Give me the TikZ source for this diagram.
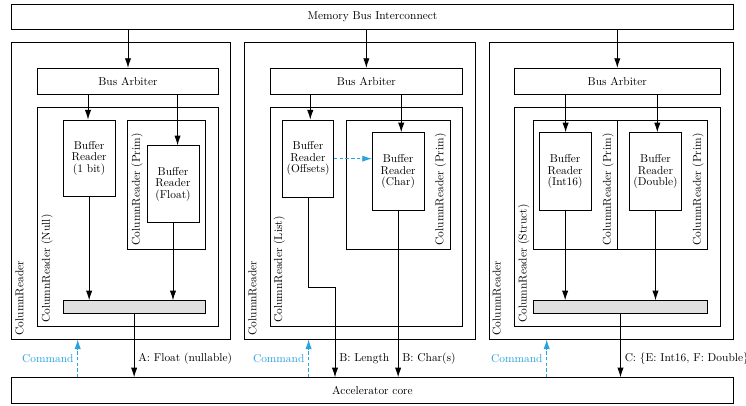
\documentclass[tikz,border=0pt]{standalone}
\usepackage{amsmath}
\usetikzlibrary{arrows.meta}
\definecolor{cmdBlue}{RGB}{41,163,223}

\begin{document}
\begin{tikzpicture}
[x=0.877pt,y=-0.877pt,
  boxDecorate/.style={draw,line width=0.6pt,inner sep=0pt},
  sized/.style 2 args={minimum width={(#1)*0.877pt},minimum height={(#2)*0.877pt}},
  barDecorate/.style={boxDecorate,fill=black!12},
  readerDecorate/.style={boxDecorate,align=center,font=\linespread{0.85}\selectfont},
  labelDecorate/.style={rotate=90,anchor=north west},
  arrowDecorate/.style={-{Latex[length=8.5pt,width=5.5pt]},thick},
  commandDecorate/.style={arrowDecorate,cmdBlue,dash pattern=on 3pt off 2pt}]
\useasboundingbox (0,0) rectangle (746,405);
%% interconnect and core
\node (mbus) at (372.5,17.1) [boxDecorate,sized={721.6}{25.2}] {Memory Bus Interconnect};
\node (core) at (372.5,390.5) [boxDecorate,sized={721.6}{25.6}] {Accelerator core};
%% column readers, arbiters and nested readers
\foreach \n/\xa/\xb/\ia/\ib/\kind in {1/11.7/230.7/37.7/218.3/Null, 2/244.7/475.3/270/462.7/List, 3/489/733.3/514.3/720.3/Struct} {
  \node (col\n) at ({(\xa+\xb)/2},190.65) [boxDecorate,sized={\xb-\xa}{296.7}] {};
  \node (arb\n) at ({(\ia+\ib)/2},81.15) [boxDecorate,sized={\ib-\ia}{25.7}] {Bus Arbiter};
  \node (nest\n) at ({(\ia+\ib)/2},216.8) [boxDecorate,sized={\ib-\ia}{219}] {};
  \node [labelDecorate] at (col\n.south west) {ColumnReader};
  \node [labelDecorate] at (nest\n.south west) {ColumnReader (\kind)};
  \draw[arrowDecorate] (mbus.south -| arb\n.north) -- (arb\n.north);
}
%% primitive column readers
\foreach \name/\xa/\xb in {prim1/127.7/205, prim2/346.7/450, prim3/533.3/617.3, prim4/617.3/707.3} {
  \node (\name) at ({(\xa+\xb)/2},184.5) [boxDecorate,sized={\xb-\xa}{129}] {};
}
\node [labelDecorate] at (prim1.south west) {ColumnReader (Prim)};
\foreach \name in {prim2, prim3, prim4} {
  \node [labelDecorate,anchor=south west] at (\name.south east) {ColumnReader (Prim)};
}
%% buffer readers
\foreach \name/\xa/\ya/\xb/\yb/\kind in {bit/63.3/120/115/196.7/1 bit, flt/147/145.7/199/222.7/Float, off/282.3/120/333.7/197.3/Offsets, chr/372.3/132.7/424/210.3/Char, int/539.3/132.7/591/210.3/Int16, dbl/629.7/132.7/681.3/210.3/Double} {
  \node (\name) at ({(\xa+\xb)/2},{(\ya+\yb)/2}) [readerDecorate,sized={\xb-\xa}{\yb-\ya}] {Buffer\\Reader\\(\kind)};
}
\node (bar1) at (134.15,307) [barDecorate,sized={141.7}{12.6}] {};
\node (bar3) at (620.5,307) [barDecorate,sized={174.4}{12.6}] {};
%% arbiters to buffer readers
\foreach \a/\r/\s in {arb1/bit/-1, arb1/flt/4, arb2/off/2, arb2/chr/2.7, arb3/int/0.4, arb3/dbl/1.6} {
  \coordinate (in) at ([xshift=\s pt]\r.north);
  \draw[arrowDecorate] (\a.south -| in) -- (in);
}
%% buffer readers to bars
\foreach \r/\b in {bit/bar1, flt/bar1, int/bar3, dbl/bar3} {
  \draw[arrowDecorate] (\r.south) -- (\r.south |- \b.north);
}
\draw[commandDecorate] (off.east) -- (off.east -| chr.west);
%% outputs to the core
\draw[arrowDecorate] (bar1.south) -- (bar1.south |- core.north) node[pos=0.7,right] {A: Float (nullable)};
\coordinate (jog) at (335,287.3);
\draw[arrowDecorate] (off.south) |- (jog) -- (jog |- core.north) node[pos=0.79,right] {B: Length};
\draw[arrowDecorate] (chr.south) -- (chr.south |- core.north) node[pos=0.885,right] {B: Char(s)};
\draw[arrowDecorate] (bar3.south) -- (bar3.south |- core.north) node[pos=0.7,right] {C: \{E: Int16, F: Double\}};
%% commands from the core
\foreach \n/\x in {1/77.7, 2/308.6, 3/546.7} {
  \coordinate (cmd\n) at (\x,0);
  \draw[commandDecorate] (core.north -| cmd\n) -- (col\n.south -| cmd\n) node[midway,left,text=cmdBlue] {Command};
}
\end{tikzpicture}
\end{document}
